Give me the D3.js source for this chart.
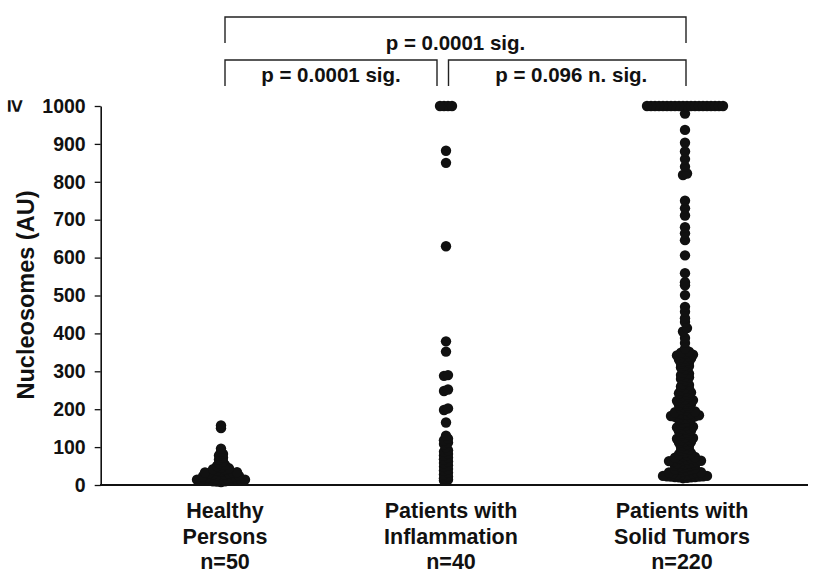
<!DOCTYPE html>
<html>
<head>
<meta charset="utf-8">
<script src="https://cdn.jsdelivr.net/npm/d3@7"></script>
<style>
  body { margin: 0; background: #fff; }
  svg { display: block; font-family: "Liberation Sans", Arial, sans-serif; font-weight: bold; }
</style>
</head>
<body>
<main></main>
<script>
// groups and their label lines
const groups = ["healthy", "inflammation", "tumors"];
const groupLines = [
  ["Healthy", "Persons", "n=50"],
  ["Patients with", "Inflammation", "n=40"],
  ["Patients with", "Solid Tumors", "n=220"]
];

// values (>= 1000 drawn at 1000)
const healthy = [8, 9, 10, 10, 11, 11, 12, 12, 13, 13, 14, 14, 12,
  15, 16, 17, 18, 19, 20, 21, 22, 23, 24,
  25, 26, 27, 28, 30, 31, 32, 33, 34,
  36, 38, 40, 42, 44, 46, 50, 53, 58, 62, 67, 72, 78, 82, 88, 96,
  150, 157];

const inflammation = [1000, 1000, 1000, 1000, 882, 850, 630, 379, 352,
  290, 288, 252, 248, 202, 198, 165,
  130, 118, 122, 108, 112, 100, 88, 92, 78, 82, 68, 72, 58, 62,
  48, 52, 38, 42, 28, 32, 18, 22, 12, 14];

// visible tumour dots (many more overlap in the original)
const tumors = [1000, 1000, 1000, 1000, 1000, 1000, 1000, 1000, 1000, 1000,
  1000, 1000, 1000, 1000, 1000, 1000, 1000, 1000, 1000, 1000,
  980, 937, 903, 880, 860, 840, 822, 818, 750, 730, 711, 680, 664, 646, 606,
  559, 535, 527, 501, 470, 457, 440, 430, 414, 405, 388, 375, 360,
  18, 19, 20, 20, 21, 21, 22, 22, 23, 23, 24, 24,
  26, 27, 28, 29, 30, 31, 32, 33, 34,
  36, 38, 40, 41, 42, 44,
  46, 48, 50, 51, 52, 54,
  55, 56, 57, 58, 60, 61, 62, 63, 64,
  66, 67, 70, 71, 72, 74,
  76, 79, 81, 84, 86, 90, 93, 96, 100, 104,
  105, 108, 112, 114, 116, 118, 120, 122, 124,
  126, 130, 134, 135, 138, 142, 144,
  146, 148, 150, 152, 154, 156, 160, 164,
  165, 168, 172, 174,
  175, 176, 178, 179, 180, 181, 182, 184,
  185, 186, 188, 190, 192, 194,
  196, 200, 204, 206, 209, 211, 214,
  215, 218, 220, 222, 224, 226, 230, 234,
  235, 238, 242, 244, 246, 250, 254,
  256, 260, 264, 266, 272, 276, 280, 284,
  286, 290, 294, 296, 304, 306, 310, 314, 316, 320, 324,
  326, 329, 331, 334, 335, 337, 339, 342, 344, 346, 349, 352];

const yTicks = [0, 100, 200, 300, 400, 500, 600, 700, 800, 900, 1000];

// comparisons: [from group, to group, text, level]
const comparisons = [
  ["healthy", "tumors", "p = 0.0001 sig.", 0],
  ["healthy", "inflammation", "p = 0.0001 sig.", 1],
  ["inflammation", "tumors", "p = 0.096 n. sig.", 1]
];

const width = 813, height = 576;
const svg = d3.select("main").append("svg")
  .attr("width", width)
  .attr("height", height);

const y = d3.scaleLinear().domain([0, 1000]).range([485, 106]);
const x = d3.scaleOrdinal().domain(groups).range([221, 446, 685]);
const xLabel = d3.scaleOrdinal().domain(groups).range([225, 451, 682]);

// y axis
const yAxis = d3.axisLeft(y)
  .tickValues(yTicks)
  .tickFormat(d3.format("d"))
  .tickSize(6)
  .tickSizeOuter(0)
  .tickPadding(9);

const gy = svg.append("g")
  .attr("transform", "translate(100.7,0)")
  .call(yAxis);
gy.select(".domain").attr("stroke", "#111").attr("stroke-width", 1.6);
gy.selectAll(".tick line").attr("stroke", "#111").attr("stroke-width", 1.3);
gy.selectAll(".tick text")
  .attr("font-size", 19.5)
  .attr("font-family", "Liberation Sans, Arial, sans-serif")
  .attr("font-weight", "bold")
  .attr("fill", "#111");

svg.append("text")
  .attr("transform", "translate(16," + y(1000) + ") rotate(90)")
  .attr("text-anchor", "middle")
  .attr("dominant-baseline", "central")
  .attr("font-size", 23)
  .attr("fill", "#111")
  .text("≥");

svg.append("text")
  .attr("transform", "translate(34,295) rotate(-90)")
  .attr("text-anchor", "middle")
  .attr("font-size", 23.5)
  .attr("fill", "#111")
  .text("Nucleosomes (AU)");

// x axis line
svg.append("line")
  .attr("x1", 100).attr("x2", 808)
  .attr("y1", y(0)).attr("y2", y(0))
  .attr("stroke", "#111")
  .attr("stroke-width", 2);

// dot layout: values in the same 10-unit bin sit side by side
const spacing = 4;
function layout(values, group) {
  const bins = d3.group(values.slice().sort((a, b) => a - b), v => Math.round(v / 10));
  const pts = [];
  bins.forEach(vals => {
    const k = vals.length;
    const slots = d3.range(k).map(j => (j - (k - 1) / 2) * spacing)
      .sort((a, b) => Math.abs(a) - Math.abs(b) || a - b);
    vals.forEach((v, i) => pts.push({ group, value: v, dx: slots[i] }));
  });
  return pts;
}

const points = [].concat(
  layout(healthy, "healthy"),
  layout(inflammation, "inflammation"),
  layout(tumors, "tumors")
);

svg.append("g")
  .selectAll("circle")
  .data(points)
  .enter()
  .append("circle")
  .attr("cx", d => x(d.group) + d.dx)
  .attr("cy", d => y(d.value))
  .attr("r", 5.2)
  .attr("fill", "#111");

// group labels
const labels = svg.append("g")
  .selectAll("text")
  .data(groups)
  .enter()
  .append("text")
  .attr("text-anchor", "middle")
  .attr("font-size", 21.5)
  .attr("fill", "#111");
labels.each(function (g, i) {
  d3.select(this).selectAll("tspan")
    .data(groupLines[i])
    .enter()
    .append("tspan")
    .attr("x", xLabel(g))
    .attr("y", (d, j) => 518 + j * 25.5)
    .text(d => d);
});

// significance brackets
const levelTop = [17, 60];
const levelBottom = [43, 86];
const textY = [50, 82];
comparisons.forEach(c => {
  let x1 = x(c[0]) + 4, x2 = x(c[1]) + 1;
  let shift = 0;
  if (c[3] === 1 && c[0] === "healthy") x2 = x(c[1]) - 9;
  if (c[3] === 1 && c[0] === "inflammation") { x1 = x(c[0]) + 2.5; shift = 4; }
  const t = levelTop[c[3]], b = levelBottom[c[3]];
  svg.append("path")
    .attr("d", `M${x1},${b}V${t}H${x2}V${b}`)
    .attr("fill", "none")
    .attr("stroke", "#222")
    .attr("stroke-width", 1.4);
  svg.append("text")
    .attr("x", (x1 + x2) / 2 + shift)
    .attr("y", textY[c[3]])
    .attr("text-anchor", "middle")
    .attr("font-size", 20.5)
    .attr("fill", "#111")
    .text(c[2]);
});
</script>
</body>
</html>
